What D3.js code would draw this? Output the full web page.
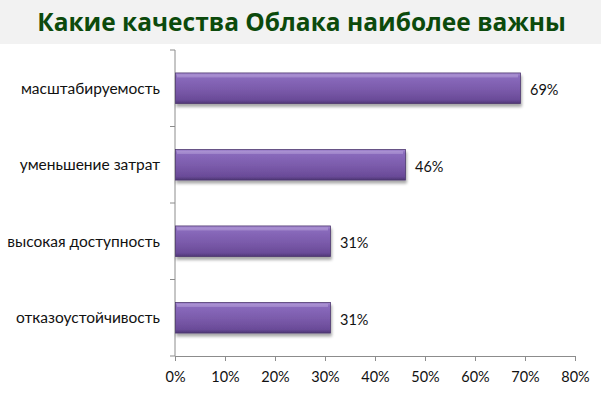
<!DOCTYPE html>
<html>
<head>
<meta charset="utf-8">
<script src="https://cdn.jsdelivr.net/npm/d3@7"></script>
<style>
  body { margin: 0; background: #fff; }
  svg { display: block; }
  .cat { font-family: Lato, "Open Sans", sans-serif; font-size: 15.5px; fill: #111; }
  .val { font-family: Lato, "Open Sans", sans-serif; font-size: 14.5px; fill: #111; }
  .ejeX text { font-family: Lato, "Open Sans", sans-serif; font-size: 14.5px; fill: #111; }
</style>
</head>
<body>
<div id="grafica"></div>
<script>
// datos
var categorias = ["масштабируемость", "уменьшение затрат", "высокая доступность", "отказоустойчивость"];
var valores = [69, 46, 31, 31];
var ticksX = [0, 10, 20, 30, 40, 50, 60, 70, 80];
var titulo = "Какие качества Облака наиболее важны";

var width = 601, height = 401;
var margin = {top: 50, right: 26, bottom: 45, left: 175};

var svg = d3.select("#grafica").append("svg")
    .attr("width", width)
    .attr("height", height);

// degradado de las barras
var defs = svg.append("defs");
var grad = defs.append("linearGradient")
    .attr("id", "gradBar").attr("x1", 0).attr("y1", 0).attr("x2", 0).attr("y2", 1);
grad.append("stop").attr("offset", "0%").attr("stop-color", "#a58bd0");
grad.append("stop").attr("offset", "12%").attr("stop-color", "#8a6bbd");
grad.append("stop").attr("offset", "55%").attr("stop-color", "#7a5aaa");
grad.append("stop").attr("offset", "88%").attr("stop-color", "#6a4b98");
grad.append("stop").attr("offset", "100%").attr("stop-color", "#4e3574");

var sombra = defs.append("filter").attr("id", "sombra")
    .attr("x", "-5%").attr("y", "-20%").attr("width", "115%").attr("height", "160%");
sombra.append("feGaussianBlur").attr("in", "SourceAlpha").attr("stdDeviation", 1.5);
sombra.append("feOffset").attr("dx", 1).attr("dy", 3).attr("result", "b");
sombra.append("feComponentTransfer").append("feFuncA").attr("type", "linear").attr("slope", 0.35);
var mg = sombra.append("feMerge");
mg.append("feMergeNode");
mg.append("feMergeNode").attr("in", "SourceGraphic");

// banda del titulo
svg.append("rect")
    .attr("x", 0).attr("y", 0)
    .attr("width", width).attr("height", 44)
    .attr("fill", "#f2f2f2");

svg.append("text")
    .attr("x", width / 2 + 1)
    .attr("y", 31)
    .attr("text-anchor", "middle")
    .style("font-family", "'Open Sans', sans-serif")
    .style("font-weight", "bold")
    .style("font-size", "24.5px")
    .attr("fill", "#0c4a0c")
    .text(titulo);

// escalas
var escalaX = d3.scaleLinear()
    .domain([0, 80])
    .range([margin.left, width - margin.right]);

var escalaY = d3.scaleBand()
    .domain(categorias)
    .range([margin.top, height - margin.bottom])
    .paddingInner(0.6)
    .paddingOuter(0.3);

// ejes
var ejeX = d3.axisBottom(escalaX)
    .tickValues(ticksX)
    .tickSize(5)
    .tickFormat(d => d + "%");

var gx = svg.append("g")
    .attr("class", "ejeX")
    .attr("transform", "translate(0," + (height - margin.bottom) + ")")
    .call(ejeX);
gx.select(".domain").attr("stroke", "#8c8c8c");
gx.selectAll(".tick line").attr("stroke", "#8c8c8c");
gx.selectAll(".tick text").attr("dy", "1.25em");

// eje y: linea y marcas entre categorias
var bordes = d3.range(categorias.length + 1).map(i => margin.top + i * (height - margin.top - margin.bottom) / categorias.length);

svg.append("line")
    .attr("x1", margin.left).attr("x2", margin.left)
    .attr("y1", margin.top).attr("y2", height - margin.bottom)
    .attr("stroke", "#8c8c8c");

svg.append("g").selectAll("line")
    .data(bordes).enter()
    .append("line")
    .attr("x1", margin.left - 5).attr("x2", margin.left)
    .attr("y1", d => d).attr("y2", d => d)
    .attr("stroke", "#8c8c8c");

// etiquetas de categorias
svg.append("g").selectAll("text")
    .data(categorias).enter()
    .append("text")
    .attr("class", "cat")
    .attr("x", margin.left - 15)
    .attr("y", d => escalaY(d) + escalaY.bandwidth() / 2)
    .attr("dy", "0.35em")
    .attr("text-anchor", "end")
    .text(d => d);

// barras
var datos = categorias.map((c, i) => ({cat: c, val: valores[i]}));

var barras = svg.append("g").selectAll("g")
    .data(datos).enter()
    .append("g");

barras.append("rect")
    .attr("x", escalaX(0) + 0.5)
    .attr("y", d => escalaY(d.cat))
    .attr("width", d => escalaX(d.val) - escalaX(0))
    .attr("height", escalaY.bandwidth())
    .attr("fill", "url(#gradBar)")
    .attr("stroke", "#4f3a70")
    .attr("stroke-width", 0.8)
    .attr("filter", "url(#sombra)");

// brillo superior
barras.append("rect")
    .attr("x", escalaX(0) + 2)
    .attr("y", d => escalaY(d.cat) + 1.5)
    .attr("width", d => escalaX(d.val) - escalaX(0) - 4)
    .attr("height", 3)
    .attr("fill", "#c0aee0")
    .attr("opacity", 0.45);

// valores
barras.append("text")
    .attr("class", "val")
    .attr("x", d => escalaX(d.val) + 10)
    .attr("y", d => escalaY(d.cat) + escalaY.bandwidth() / 2 + 2)
    .attr("dy", "0.35em")
    .text(d => d.val + "%");
</script>
</body>
</html>
